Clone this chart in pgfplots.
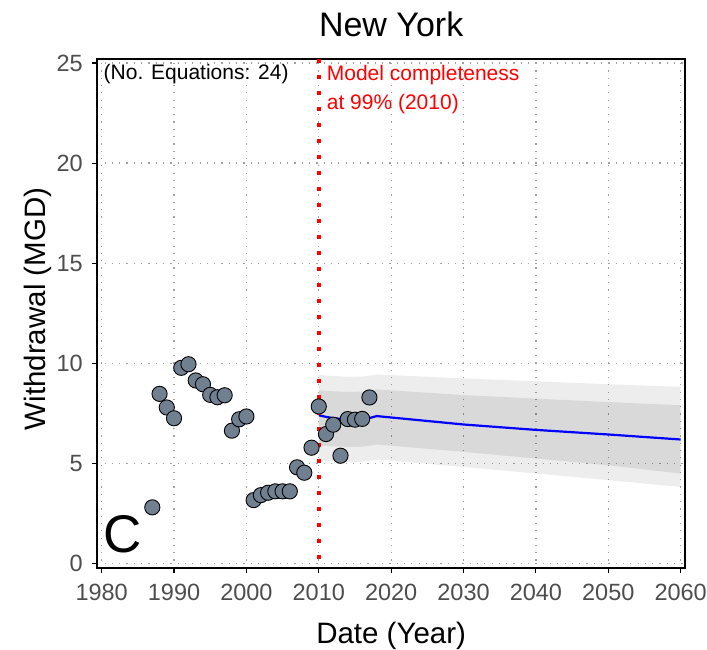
\documentclass[border=0pt]{standalone}
\usepackage{pgfplots}
\pgfplotsset{compat=1.18}
\usepackage{fontspec}
\setmainfont{Liberation Sans}
\definecolor{ptfill}{RGB}{112,128,144}
\definecolor{tickgray}{RGB}{77,77,77}
\definecolor{pured}{RGB}{255,0,0}
\definecolor{gridgray}{RGB}{160,160,160}

\begin{document}
\begin{tikzpicture}
\path[use as bounding box] (0,0) rectangle (707pt,650pt);
\begin{axis}[
  at={(97.3pt,82pt)}, anchor=south west,
  width=587.7pt, height=509pt, scale only axis,
  xmin=1979.4, xmax=2060.6, ymin=-0.23, ymax=25.2,
  xtick={1980,1990,...,2060}, ytick={0,5,...,25},
  xtick pos=bottom, ytick pos=left,
  tick align=outside, major tick length=5.5pt,
  tick style={black, line width=1.1pt},
  axis line style={line width=1.6pt},
  /pgf/number format/assume math mode=true,
  /pgf/number format/1000 sep={},
  tick label style={font=\fontsize{23.5}{28}\selectfont, text=tickgray},
  xticklabel style={yshift=-7.5pt},
  yticklabel style={xshift=-5.5pt},
  grid=major,
  major grid style={gridgray, line width=1.2pt, dash pattern=on 1.2pt off 6.1pt},
  every axis title shift=0pt,
  title={New York},
  title style={font=\fontsize{34}{40}\selectfont, at={(axis description cs:0.5,1.04322)}, anchor=base},
  xlabel={Date (Year)},
  xlabel style={font=\fontsize{29.5}{34}\selectfont, at={(axis description cs:0.5,-0.14931)}, anchor=base},
  ylabel={Withdrawal (MGD)},
  ylabel style={font=\fontsize{29.5}{34}\selectfont, at={(axis description cs:-0.08899,0.5088)}, anchor=base},
]
% outer band
\addplot[draw=none, fill=black, fill opacity=0.07] coordinates {
 (2010,9.42) (2012,9.36) (2014,9.32) (2016,9.33) (2018,9.44) (2030,9.24) (2040,9.10) (2050,8.95) (2060,8.82)
 (2060,3.82) (2050,4.16) (2040,4.49) (2030,4.82) (2018,5.19) (2016,5.08) (2014,5.07) (2012,5.10) (2010,5.15)} -- cycle;
% inner band
\addplot[draw=none, fill=black, fill opacity=0.085] coordinates {
 (2010,8.65) (2012,8.60) (2014,8.57) (2016,8.58) (2018,8.69) (2030,8.41) (2040,8.23) (2050,8.06) (2060,7.90)
 (2060,4.49) (2050,4.90) (2040,5.24) (2030,5.57) (2018,5.94) (2016,5.83) (2014,5.82) (2012,5.85) (2010,5.90)} -- cycle;
% observations
\addplot[only marks, mark=*, mark size=7.6pt, mark options={fill=ptfill, draw=black, line width=0.9pt}] coordinates {
 (1987,2.80) (1988,8.47) (1989,7.79) (1990,7.25) (1991,9.77) (1992,9.95) (1993,9.14) (1994,8.95)
 (1995,8.42) (1996,8.30) (1997,8.40) (1998,6.63) (1999,7.20) (2000,7.34) (2001,3.16) (2002,3.41)
 (2003,3.53) (2004,3.60) (2005,3.60) (2006,3.60) (2007,4.80) (2008,4.53) (2009,5.78) (2010,7.84)
 (2011,6.46) (2012,6.93) (2013,5.38) (2014,7.21) (2015,7.18) (2016,7.22) (2017,8.29)};
% model line
\addplot[blue, line width=2.2pt, mark=none] coordinates {
 (2010,7.40) (2011,7.32) (2012,7.26) (2013,7.22) (2014,7.20) (2015,7.18) (2016,7.18) (2017,7.26)
 (2018,7.36) (2020,7.29) (2030,6.94) (2040,6.67) (2050,6.44) (2060,6.19)};
% completeness line
\addplot[draw=pured, mark=none, line width=3.6pt, line cap=butt, dash pattern=on 3.6pt off 12.4pt] coordinates {(2010,25.2) (2010,-0.23)};
\node[anchor=base west, inner sep=0, font=\fontsize{21}{25}\selectfont] at (axis cs:1980.26,24.19) {(No. Equations: 24)};
\node[anchor=base west, inner sep=0, text=pured, font=\fontsize{21}{25}\selectfont] at (axis cs:2011.09,24.15) {Model completeness};
\node[anchor=base west, inner sep=0, text=pured, font=\fontsize{21}{25}\selectfont] at (axis cs:2011.09,22.69) {at 99\% (2010)};
\node[anchor=base west, inner sep=0, font=\fontsize{53}{60}\selectfont] at (axis cs:1980.2,0.525) {C};
\end{axis}
\end{tikzpicture}
\end{document}
